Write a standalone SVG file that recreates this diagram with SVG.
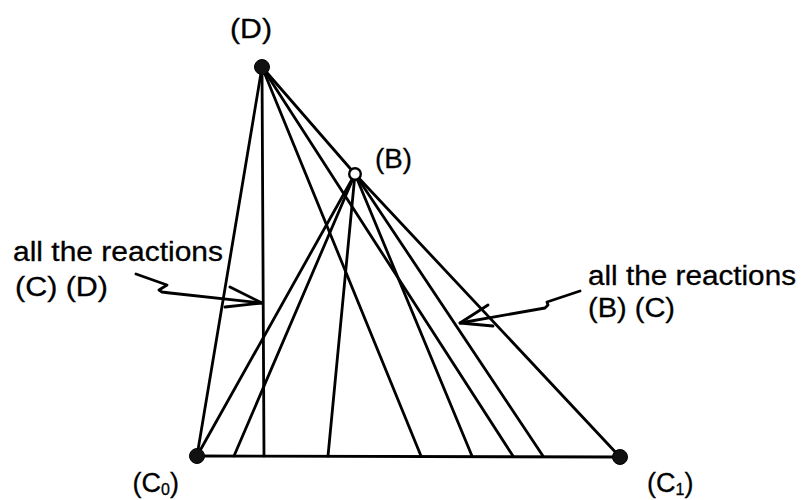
<svg xmlns="http://www.w3.org/2000/svg" width="806" height="500" viewBox="0 0 806 500">
<style>
.ln{stroke:#000;stroke-width:2.8;fill:none;stroke-linecap:round;stroke-linejoin:round}
.t{font-family:"Liberation Sans",Arial,sans-serif;font-size:27px;fill:#000;stroke:#000;stroke-width:0.3}
.dot{fill:#111;stroke:#000;stroke-width:1}
.odot{fill:#fff;stroke:#000;stroke-width:2.4}
</style>
<rect width="806" height="500" fill="#fff"/>
<g id="connectors">
<line class="ln" x1="197" y1="456" x2="620" y2="457"/>
<line class="ln" x1="262" y1="67" x2="197" y2="456"/>
<line class="ln" x1="262" y1="67" x2="264" y2="456"/>
<line class="ln" x1="262" y1="67" x2="421" y2="456"/>
<line class="ln" x1="262" y1="67" x2="513" y2="456"/>
<line class="ln" x1="262" y1="67" x2="355" y2="174"/>
<line class="ln" x1="355" y1="174" x2="197" y2="456"/>
<line class="ln" x1="355" y1="174" x2="234" y2="456"/>
<line class="ln" x1="355" y1="174" x2="328" y2="456"/>
<line class="ln" x1="355" y1="174" x2="472" y2="456"/>
<line class="ln" x1="355" y1="174" x2="543" y2="456"/>
<line class="ln" x1="355" y1="174" x2="620" y2="457"/>
<polyline class="ln" points="136,274 167,285 159,290 162,292 170,293 262,303"/>
<polyline class="ln" points="230,287 262,303 225,307"/>
<polyline class="ln" points="580,291 547,302 548,305 545,308 460,323"/>
<polyline class="ln" points="488,305 460,323 493,326"/>
</g>
<g id="node-D">
<circle class="dot" cx="262" cy="67" r="7.5"/>
<text class="t" x="230" y="38" textLength="42" lengthAdjust="spacingAndGlyphs">(D)</text>
</g>
<g id="node-B">
<circle class="odot" cx="355" cy="174" r="5.8"/>
<text class="t" x="375" y="168" textLength="37" lengthAdjust="spacingAndGlyphs">(B)</text>
</g>
<g id="node-C0">
<circle class="dot" cx="197" cy="456" r="7.5"/>
<text class="t" x="179" y="492" text-anchor="end">(C<tspan font-size="16" dy="3">0</tspan><tspan dy="-3">)</tspan></text>
</g>
<g id="node-C1">
<circle class="dot" cx="620" cy="457" r="7.5"/>
<text class="t" x="647" y="492">(C<tspan font-size="16" dy="3">1</tspan><tspan dy="-3">)</tspan></text>
</g>
<g id="label-CD">
<text class="t" x="13" y="261" textLength="210" lengthAdjust="spacingAndGlyphs">all the reactions</text>
<text class="t" x="15" y="296" textLength="93" lengthAdjust="spacingAndGlyphs">(C) (D)</text>
</g>
<g id="label-BC">
<text class="t" x="588" y="285" textLength="208" lengthAdjust="spacingAndGlyphs">all the reactions</text>
<text class="t" x="588" y="317" textLength="87" lengthAdjust="spacingAndGlyphs">(B) (C)</text>
</g>
</svg>
